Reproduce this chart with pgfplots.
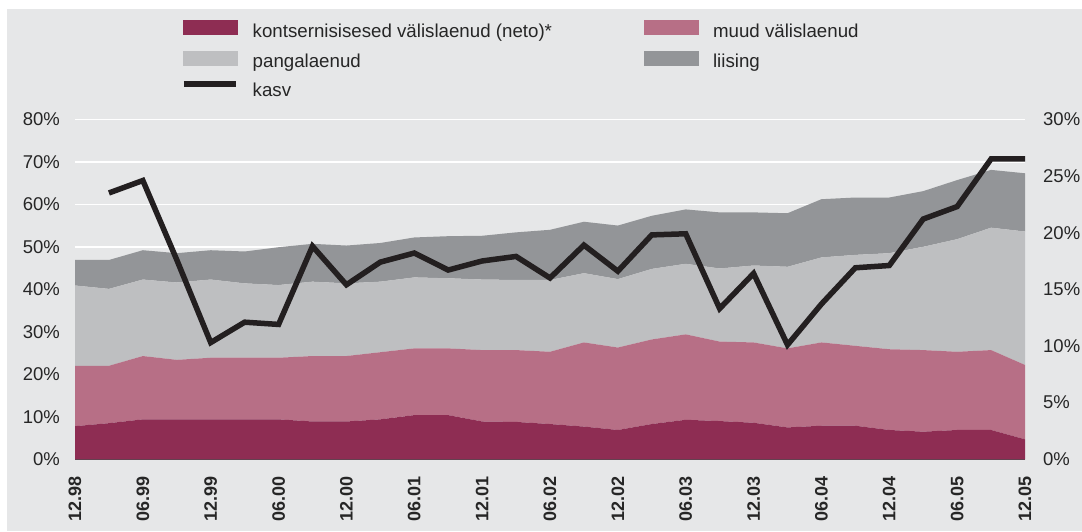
\documentclass[border=0pt]{standalone}
\usepackage{fontspec}
\setmainfont{Liberation Sans}
\usepackage{pgfplots}
\usepackage{pgfplotstable}
\pgfplotsset{compat=1.18}
\definecolor{bggray}{RGB}{230,231,232}
\definecolor{cmaroon}{RGB}{142,45,83}
\definecolor{cpink}{RGB}{183,111,134}
\definecolor{clight}{RGB}{190,191,193}
\definecolor{cdark}{RGB}{147,149,152}
\definecolor{cline}{RGB}{35,31,32}
\definecolor{caxis}{RGB}{77,77,79}
\pgfplotsset{kasvlegend/.style={legend image code/.code={\draw[cline, line width=5.5pt] (1pt,7.8pt) -- (53pt,7.8pt);}}}

\pgfplotstableread{
x a b c d
0 7.8 14.2 18.9 6.0
1 8.5 13.5 18.1 6.8
2 9.4 14.9 18.0 6.9
3 9.4 14.0 18.2 6.9
4 9.4 14.5 18.4 6.9
5 9.4 14.5 17.5 7.5
6 9.4 14.5 17.1 8.9
7 8.9 15.4 17.5 8.9
8 8.9 15.4 17.1 8.9
9 9.4 15.8 16.6 9.1
10 10.4 15.7 16.7 9.4
11 10.4 15.7 16.5 9.9
12 8.9 16.8 16.6 10.3
13 8.8 16.9 16.5 11.2
14 8.3 17.0 16.9 11.8
15 7.7 19.8 16.3 12.1
16 6.9 19.4 16.1 12.6
17 8.3 19.9 16.6 12.5
18 9.3 20.1 16.6 12.8
19 9.0 18.7 17.2 13.2
20 8.6 18.9 18.1 12.5
21 7.5 18.6 19.2 12.6
22 7.9 19.6 20.0 13.7
23 7.9 18.8 21.4 13.5
24 6.9 19.0 22.6 13.1
25 6.5 19.2 24.3 13.1
26 6.9 18.4 26.5 13.9
27 6.9 18.8 28.8 13.6
28 4.7 17.5 31.4 13.7
}\stackdata

\begin{document}
\begin{tikzpicture}[x=1pt,y=1pt]
\path[use as bounding box] (0,0) rectangle (1082,-531);
\fill[white] (0,0) rectangle (1082,-531);
\fill[bggray] (7,-9) rectangle (1082,-531);
\begin{axis}[
  at={(75pt,-459.3pt)}, anchor=south west,
  scale only axis, width=950pt, height=340pt,
  xmin=0, xmax=28, ymin=0, ymax=80,
  axis line style={draw=none},
  major tick length=0pt,
  tick style={draw=none},
  xtick={0,2,...,28},
  xticklabels={12.98,06.99,12.99,06.00,12.00,06.01,12.01,06.02,12.02,06.03,12.03,06.04,12.04,06.05,12.05},
  xticklabel style={rotate=90, anchor=east, inner sep=0pt, font=\bfseries\fontsize{18}{20}\selectfont, text=black!85},
  xticklabel shift=17pt,
  ytick={0,10,...,80},
  yticklabels={0\%,10\%,20\%,30\%,40\%,50\%,60\%,70\%,80\%},
  yticklabel style={inner sep=0pt, font=\fontsize{18.5}{20}\selectfont, text=black!85},
  yticklabel shift=15pt,
  ymajorgrids,
  grid style={white, line width=1.6pt},
  stack plots=y,
  legend columns=2,
  legend cell align=left,
  legend image code/.code={\fill[#1] (0pt,-2.5pt) rectangle (55pt,12.5pt);},
  legend style={at={(0.11158,1.2916)}, anchor=north west, draw=none, fill=none, inner sep=0pt,
    font=\fontsize{18.7}{20}\selectfont, text=black!85,
    nodes={inner sep=0pt, text height=13.5pt, text depth=4.5pt},
    row sep=9pt,
    /tikz/every odd column/.append style={column sep=14pt},
    /tikz/every even column/.append style={column sep=92pt}},
]
\addplot[fill=cmaroon, draw=none] table[x=x, y=a] {\stackdata} \closedcycle;
\addlegendentry{kontsernisisesed välislaenud (neto)*}
\addplot[fill=cpink, draw=none] table[x=x, y=b] {\stackdata} \closedcycle;
\addlegendentry{muud välislaenud}
\addplot[fill=clight, draw=none] table[x=x, y=c] {\stackdata} \closedcycle;
\addlegendentry{pangalaenud}
\addplot[fill=cdark, draw=none] table[x=x, y=d] {\stackdata} \closedcycle;
\addlegendentry{liising}
\addlegendimage{kasvlegend}
\addlegendentry{kasv}
\draw[caxis, line width=2pt] (axis cs:0,0) -- (axis cs:28,0);
\end{axis}
\begin{axis}[
  at={(75pt,-459.3pt)}, anchor=south west,
  scale only axis, width=950pt, height=340pt,
  xmin=0, xmax=28, ymin=0, ymax=30,
  hide x axis,
  axis y line*=right,
  axis line style={draw=none},
  major tick length=0pt,
  tick style={draw=none},
  ytick={0,5,...,30},
  yticklabels={0\%,5\%,10\%,15\%,20\%,25\%,30\%},
  yticklabel style={inner sep=0pt, font=\fontsize{18.5}{20}\selectfont, text=black!85},
  yticklabel shift=18pt,
  clip=false,
]
\addplot[cline, line width=5.5pt, line join=miter, miter limit=3] coordinates {
(1,23.5) (2,24.6) (3,17.6) (4,10.3) (5,12.1) (6,11.9) (7,18.8) (8,15.4) (9,17.4) (10,18.2)
(11,16.7) (12,17.5) (13,17.9) (14,16.0) (15,18.9) (16,16.6) (17,19.8) (18,19.9) (19,13.3) (20,16.4)
(21,10.1) (22,13.7) (23,16.9) (24,17.1) (25,21.2) (26,22.3) (27,26.5) (28,26.5)
};
\end{axis}
\end{tikzpicture}
\end{document}
